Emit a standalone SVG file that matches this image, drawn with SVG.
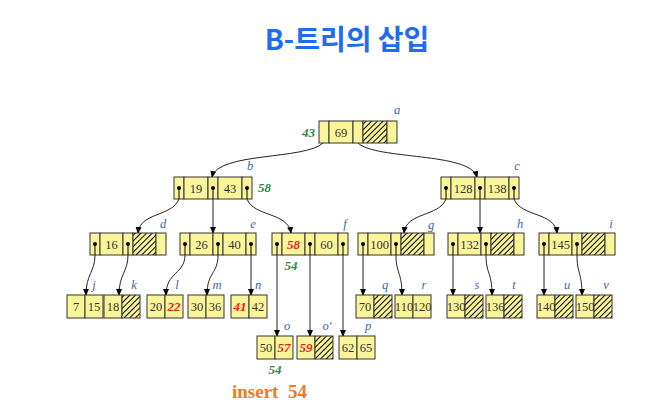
<svg xmlns="http://www.w3.org/2000/svg" width="661" height="418" viewBox="0 0 661 418">
<defs>
<pattern id="hatch" patternUnits="userSpaceOnUse" width="4" height="4" patternTransform="rotate(45)">
<rect width="4" height="4" fill="#fbf59a"/>
<line x1="0" y1="0" x2="0" y2="4" stroke="#000" stroke-width="2"/>
</pattern>
<marker id="ah" markerWidth="7" markerHeight="7" refX="6" refY="3.5" orient="auto" markerUnits="userSpaceOnUse">
<path d="M0,0.5 L7,3.5 L0,6.5 Z" fill="#000"/>
</marker>
<style>
.c{fill:#fbf59a;stroke:#333;stroke-width:1}
.h{fill:url(#hatch);stroke:#333;stroke-width:1}
.n{font-family:"Liberation Serif",serif;font-size:12.5px;fill:#333;text-anchor:middle}
.r{font-family:"Liberation Serif",serif;font-size:13px;fill:#e8201c;font-weight:bold;font-style:italic;text-anchor:middle}
.lb{font-family:"Liberation Serif",serif;font-size:12.5px;fill:#3a66a8;font-style:italic;text-anchor:middle}
.gr{font-family:"Liberation Serif",serif;font-size:13px;fill:#2e8b3e;font-weight:bold;font-style:italic}
.d{fill:#000}
.s{stroke:#000;stroke-width:1}
.e2{fill:none;stroke:#222;stroke-width:1;marker-end:url(#ah)}
</style>
</defs>
<rect width="661" height="418" fill="#fff"/>
<text x="347" y="50" font-family="Noto Sans CJK KR, sans-serif" font-size="28" font-weight="bold" fill="#1e6cf0" text-anchor="middle">B-트리의 삽입</text>
<text x="232" y="398" font-family="Liberation Serif, serif" font-size="19" font-weight="bold" fill="#f07820" xml:space="preserve">insert  54</text>

<g id="connectors">
<path class="e2" d="M323,143 C305,160 218,152 212,177"/>
<path class="e2" d="M358,143 C376,160 470,152 477,177"/>
<path class="e2" d="M179,199 C172,217 140,212 138,233"/>
<path class="e2" d="M213,199 L213,233"/>
<path class="e2" d="M247,199 C254,217 288,212 291,233"/>
<path class="e2" d="M446,199 C439,217 406,212 404,233"/>
<path class="e2" d="M480,199 L480,233"/>
<path class="e2" d="M514,199 C521,217 555,212 557,233"/>
<path class="e2" d="M95,255 C95,272 86,274 86,295"/>
<path class="e2" d="M128,255 C128,272 119,274 119,295"/>
<path class="e2" d="M185,255 C185,274 166,272 166,295"/>
<path class="e2" d="M218,255 C218,274 207,272 207,295"/>
<path class="e2" d="M251,255 L251,295"/>
<path class="e2" d="M277,255 L277,336"/>
<path class="e2" d="M310,255 L310,336"/>
<path class="e2" d="M343,255 L343,336"/>
<path class="e2" d="M363,255 L363,295"/>
<path class="e2" d="M396,255 C396,274 402,272 402,295"/>
<path class="e2" d="M453,255 L453,295"/>
<path class="e2" d="M486,255 C486,274 492,272 492,295"/>
<path class="e2" d="M544,255 L544,295"/>
<path class="e2" d="M577,255 C577,274 582,272 582,295"/>
</g>

<g id="node-a">
<rect class="c" x="319" y="121" width="10" height="22"/>
<rect class="c" x="329" y="121" width="24" height="22"/>
<rect class="c" x="353" y="121" width="10" height="22"/>
<rect class="h" x="363" y="121" width="24" height="22"/>
<rect class="c" x="387" y="121" width="10" height="22"/>
<text class="n" x="341" y="137">69</text>
<text class="lb" x="397" y="114">a</text>
<text class="gr" x="315" y="137" text-anchor="end">43</text>
</g>

<g id="node-b">
<rect class="c" x="174" y="177" width="10" height="22"/>
<rect class="c" x="184" y="177" width="24" height="22"/>
<rect class="c" x="208" y="177" width="10" height="22"/>
<rect class="c" x="218" y="177" width="24" height="22"/>
<rect class="c" x="242" y="177" width="10" height="22"/>
<circle class="d" cx="179" cy="188" r="2"/><line class="s" x1="179" y1="188" x2="179" y2="199"/>
<circle class="d" cx="213" cy="188" r="2"/><line class="s" x1="213" y1="188" x2="213" y2="199"/>
<circle class="d" cx="247" cy="188" r="2"/><line class="s" x1="247" y1="188" x2="247" y2="199"/>
<text class="n" x="196" y="193">19</text>
<text class="n" x="230" y="193">43</text>
<text class="lb" x="250" y="170">b</text>
<text class="gr" x="258" y="192">58</text>
</g>

<g id="node-c">
<rect class="c" x="441" y="177" width="10" height="22"/>
<rect class="c" x="451" y="177" width="24" height="22"/>
<rect class="c" x="475" y="177" width="10" height="22"/>
<rect class="c" x="485" y="177" width="24" height="22"/>
<rect class="c" x="509" y="177" width="10" height="22"/>
<circle class="d" cx="446" cy="188" r="2"/><line class="s" x1="446" y1="188" x2="446" y2="199"/>
<circle class="d" cx="480" cy="188" r="2"/><line class="s" x1="480" y1="188" x2="480" y2="199"/>
<circle class="d" cx="514" cy="188" r="2"/><line class="s" x1="514" y1="188" x2="514" y2="199"/>
<text class="n" x="463" y="193">128</text>
<text class="n" x="497" y="193">138</text>
<text class="lb" x="517" y="170">c</text>
</g>

<g id="node-d">
<rect class="c" x="90" y="233" width="10" height="22"/>
<rect class="c" x="100" y="233" width="23" height="22"/>
<rect class="c" x="123" y="233" width="10" height="22"/>
<rect class="h" x="133" y="233" width="23" height="22"/>
<rect class="c" x="156" y="233" width="10" height="22"/>
<circle class="d" cx="95" cy="244" r="2"/><line class="s" x1="95" y1="244" x2="95" y2="255"/>
<circle class="d" cx="128" cy="244" r="2"/><line class="s" x1="128" y1="244" x2="128" y2="255"/>
<text class="n" x="111.5" y="249">16</text>
<text class="lb" x="163" y="228">d</text>
</g>

<g id="node-e">
<rect class="c" x="180" y="233" width="10" height="22"/>
<rect class="c" x="190" y="233" width="23" height="22"/>
<rect class="c" x="213" y="233" width="10" height="22"/>
<rect class="c" x="223" y="233" width="23" height="22"/>
<rect class="c" x="246" y="233" width="10" height="22"/>
<circle class="d" cx="185" cy="244" r="2"/><line class="s" x1="185" y1="244" x2="185" y2="255"/>
<circle class="d" cx="218" cy="244" r="2"/><line class="s" x1="218" y1="244" x2="218" y2="255"/>
<circle class="d" cx="251" cy="244" r="2"/><line class="s" x1="251" y1="244" x2="251" y2="255"/>
<text class="n" x="201.5" y="249">26</text>
<text class="n" x="234.5" y="249">40</text>
<text class="lb" x="253" y="228">e</text>
</g>

<g id="node-f">
<rect class="c" x="272" y="233" width="10" height="22"/>
<rect class="c" x="282" y="233" width="23" height="22"/>
<rect class="c" x="305" y="233" width="10" height="22"/>
<rect class="c" x="315" y="233" width="23" height="22"/>
<rect class="c" x="338" y="233" width="10" height="22"/>
<circle class="d" cx="277" cy="244" r="2"/><line class="s" x1="277" y1="244" x2="277" y2="255"/>
<circle class="d" cx="310" cy="244" r="2"/><line class="s" x1="310" y1="244" x2="310" y2="255"/>
<circle class="d" cx="343" cy="244" r="2"/><line class="s" x1="343" y1="244" x2="343" y2="255"/>
<text class="r" x="293.5" y="249">58</text>
<text class="n" x="326.5" y="249">60</text>
<text class="lb" x="345" y="228">f</text>
<text class="gr" x="291" y="270" text-anchor="middle">54</text>
</g>

<g id="node-g">
<rect class="c" x="358" y="233" width="10" height="22"/>
<rect class="c" x="368" y="233" width="23" height="22"/>
<rect class="c" x="391" y="233" width="10" height="22"/>
<rect class="h" x="401" y="233" width="23" height="22"/>
<rect class="c" x="424" y="233" width="10" height="22"/>
<circle class="d" cx="363" cy="244" r="2"/><line class="s" x1="363" y1="244" x2="363" y2="255"/>
<circle class="d" cx="396" cy="244" r="2"/><line class="s" x1="396" y1="244" x2="396" y2="255"/>
<text class="n" x="379.5" y="249">100</text>
<text class="lb" x="431" y="229">g</text>
</g>

<g id="node-h">
<rect class="c" x="448" y="233" width="10" height="22"/>
<rect class="c" x="458" y="233" width="23" height="22"/>
<rect class="c" x="481" y="233" width="10" height="22"/>
<rect class="h" x="491" y="233" width="23" height="22"/>
<rect class="c" x="514" y="233" width="10" height="22"/>
<circle class="d" cx="453" cy="244" r="2"/><line class="s" x1="453" y1="244" x2="453" y2="255"/>
<circle class="d" cx="486" cy="244" r="2"/><line class="s" x1="486" y1="244" x2="486" y2="255"/>
<text class="n" x="469.5" y="249">132</text>
<text class="lb" x="520" y="228">h</text>
</g>

<g id="node-i">
<rect class="c" x="539" y="233" width="10" height="22"/>
<rect class="c" x="549" y="233" width="23" height="22"/>
<rect class="c" x="572" y="233" width="10" height="22"/>
<rect class="h" x="582" y="233" width="23" height="22"/>
<rect class="c" x="605" y="233" width="10" height="22"/>
<circle class="d" cx="544" cy="244" r="2"/><line class="s" x1="544" y1="244" x2="544" y2="255"/>
<circle class="d" cx="577" cy="244" r="2"/><line class="s" x1="577" y1="244" x2="577" y2="255"/>
<text class="n" x="560.5" y="249">145</text>
<text class="lb" x="611" y="228">i</text>
</g>

<g id="leaf-j">
<rect class="c" x="67" y="295" width="18" height="23"/><rect class="c" x="85" y="295" width="18" height="23"/>
<text class="n" x="76" y="311">7</text><text class="n" x="94" y="311">15</text>
<text class="lb" x="94" y="289">j</text>
</g>
<g id="leaf-k">
<rect class="c" x="104" y="295" width="18" height="23"/><rect class="h" x="122" y="295" width="18" height="23"/>
<text class="n" x="113" y="311">18</text>
<text class="lb" x="134" y="289">k</text>
</g>
<g id="leaf-l">
<rect class="c" x="147" y="295" width="18" height="23"/><rect class="c" x="165" y="295" width="18" height="23"/>
<text class="n" x="156" y="311">20</text><text class="r" x="174" y="311">22</text>
<text class="lb" x="177" y="289">l</text>
</g>
<g id="leaf-m">
<rect class="c" x="188" y="295" width="18" height="23"/><rect class="c" x="206" y="295" width="18" height="23"/>
<text class="n" x="197" y="311">30</text><text class="n" x="215" y="311">36</text>
<text class="lb" x="217" y="289">m</text>
</g>
<g id="leaf-n">
<rect class="c" x="231" y="295" width="18" height="23"/><rect class="c" x="249" y="295" width="18" height="23"/>
<text class="r" x="240" y="311">41</text><text class="n" x="258" y="311">42</text>
<text class="lb" x="258" y="289">n</text>
</g>
<g id="leaf-q">
<rect class="c" x="356" y="295" width="18" height="23"/><rect class="h" x="374" y="295" width="18" height="23"/>
<text class="n" x="365" y="311">70</text>
<text class="lb" x="385" y="289">q</text>
</g>
<g id="leaf-r">
<rect class="c" x="395" y="295" width="18" height="23"/><rect class="c" x="413" y="295" width="18" height="23"/>
<text class="n" x="404" y="311">110</text><text class="n" x="422" y="311">120</text>
<text class="lb" x="424" y="289">r</text>
</g>
<g id="leaf-s">
<rect class="c" x="447" y="295" width="18" height="23"/><rect class="h" x="465" y="295" width="18" height="23"/>
<text class="n" x="456" y="311">130</text>
<text class="lb" x="477" y="289">s</text>
</g>
<g id="leaf-t">
<rect class="c" x="486" y="295" width="18" height="23"/><rect class="h" x="504" y="295" width="18" height="23"/>
<text class="n" x="495" y="311">136</text>
<text class="lb" x="514" y="289">t</text>
</g>
<g id="leaf-u">
<rect class="c" x="537" y="295" width="18" height="23"/><rect class="h" x="555" y="295" width="18" height="23"/>
<text class="n" x="546" y="311">140</text>
<text class="lb" x="567" y="289">u</text>
</g>
<g id="leaf-v">
<rect class="c" x="576" y="295" width="18" height="23"/><rect class="h" x="594" y="295" width="18" height="23"/>
<text class="n" x="585" y="311">150</text>
<text class="lb" x="606" y="289">v</text>
</g>
<g id="leaf-o">
<rect class="c" x="257" y="336" width="18" height="23"/><rect class="c" x="275" y="336" width="18" height="23"/>
<text class="n" x="266" y="352">50</text><text class="r" x="284" y="352">57</text>
<text class="lb" x="287" y="330">o</text>
<text class="gr" x="275" y="374" text-anchor="middle">54</text>
</g>
<g id="leaf-o2">
<rect class="c" x="297" y="336" width="18" height="23"/><rect class="h" x="315" y="336" width="18" height="23"/>
<text class="r" x="306" y="352">59</text>
<text class="lb" x="327" y="330">o'</text>
</g>
<g id="leaf-p">
<rect class="c" x="339" y="336" width="18" height="23"/><rect class="c" x="357" y="336" width="18" height="23"/>
<text class="n" x="348" y="352">62</text><text class="n" x="366" y="352">65</text>
<text class="lb" x="368" y="330">p</text>
</g>
</svg>
